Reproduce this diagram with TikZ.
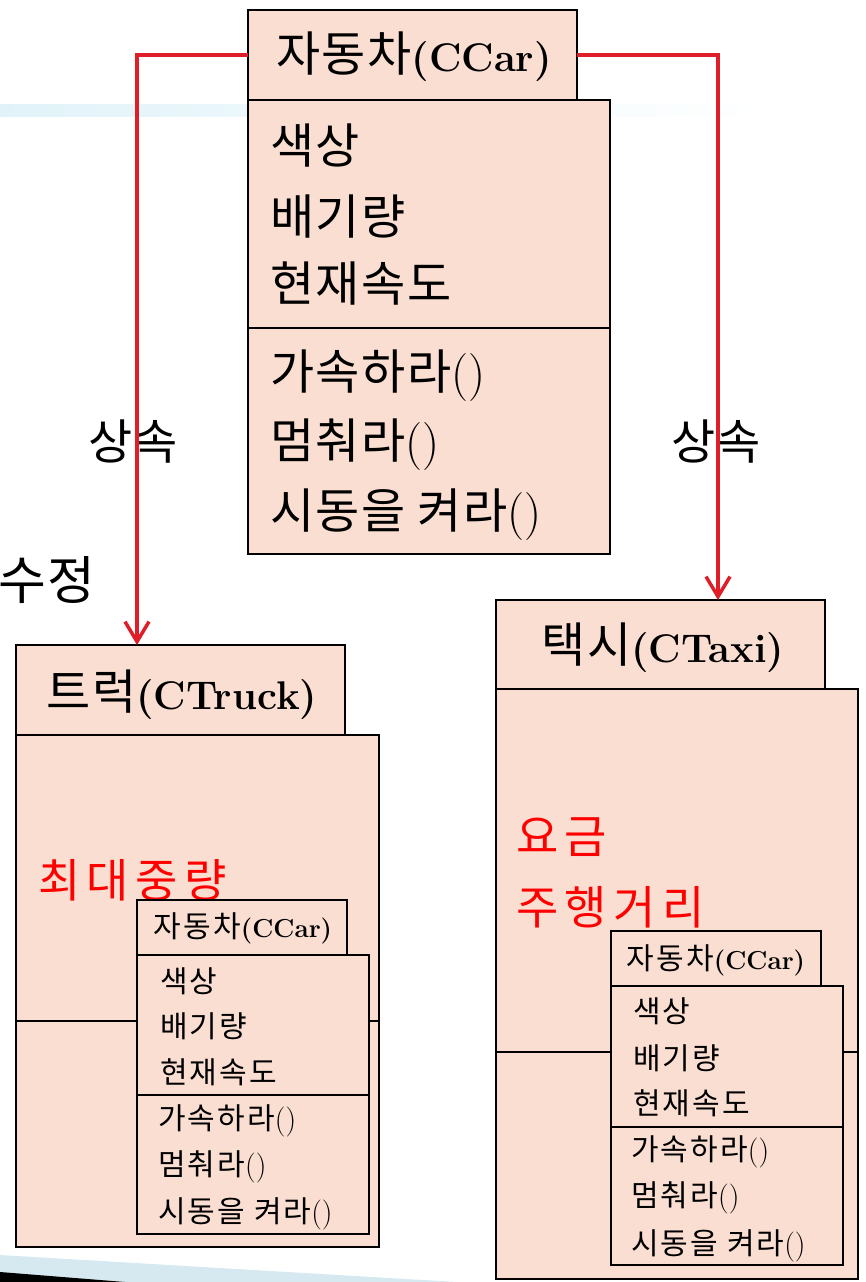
\documentclass[tikz,border=0pt]{standalone}
\usepackage{fontspec}
\newfontfamily\kr{Noto Sans CJK KR}[LetterSpace=3]
\newfontfamily\krs{Noto Sans CJK KR}[LetterSpace=7]
\newfontfamily\krr{Noto Sans CJK KR}[LetterSpace=14]
\usetikzlibrary{arrows.meta}
\definecolor{peach}{RGB}{250,222,209}
\definecolor{linered}{RGB}{222,30,40}
\definecolor{barblue}{RGB}{225,243,249}
\definecolor{wedgeblue}{RGB}{214,233,240}
\newcommand\krbig{\kr\fontsize{48}{52}\selectfont}
\newcommand\krsmall{\krs\fontsize{30}{34}\selectfont}
\newcommand\krred{\krr\fontsize{46}{50}\selectfont}
\newcommand\latbig{\fontsize{40}{44}\selectfont\bfseries}
\newcommand\latsmall{\fontsize{26}{30}\selectfont\bfseries}
\newcommand\prn{{\rmfamily\mdseries()}}
\tikzset{
  box/.style={draw=black, line width=2pt, fill=peach, inner sep=0pt, outer sep=0pt, anchor=north west},
  divline/.style={draw=black, line width=2pt},
  redline/.style={draw=linered, line width=3.5pt, -{Straight Barb[length=20pt,width=24pt]}},
  bigtxt/.style={inner sep=0pt, anchor=west, font=\krbig},
  smalltxt/.style={inner sep=0pt, anchor=west, font=\krsmall},
  redtxt/.style={inner sep=0pt, anchor=west, font=\krred, text=red},
  titletxt/.style={inner sep=0pt, anchor=center}
}
\begin{document}
\begin{tikzpicture}[x=1pt,y=-1pt]
\useasboundingbox (0,0) rectangle (866,1282);
% background decorations
\shade[left color=barblue, right color=white] (0,104) rectangle (770,116);
\fill[wedgeblue] (0,1255) -- (457,1282) -- (0,1282) -- cycle;
\fill[black] (0,1272) -- (125,1282) -- (0,1282) -- cycle;

% ===== top class CCar =====
\node[box, minimum width=329pt, minimum height=90pt] (cartitle) at (248,10) {};
\node[box, minimum width=362pt, minimum height=454pt] (carbody) at (248,100) {};
\draw[divline] (carbody.west |- 0,328) -- (carbody.east |- 0,328);
\node[titletxt] (cartitletxt) at (414,57) {{\krbig 자동차}{\latbig (CCar)}};
\node[bigtxt] (a1) at (270,146) {색상};
\node[bigtxt] (a2) at (270,217) {배기량};
\node[bigtxt] (a3) at (270,284) {현재속도};
\node[bigtxt] (m1) at (270,376) {가속하라\prn};
\node[bigtxt] (m2) at (270,445) {멈춰라\prn};
\node[bigtxt] (m3) at (270,515) {시동을 켜라\prn};

% labels
\node[bigtxt, anchor=center] (inhL) at (133,442) {상속};
\node[bigtxt, anchor=center] (inhR) at (716,442) {상속};
\node[inner sep=0pt, anchor=east, font=\kr\fontsize{52}{56}\selectfont] (fix) at (96,580) {수정};

% ===== Truck =====
\node[box, minimum width=329pt, minimum height=90pt] (trucktitle) at (16,645) {};
\node[box, minimum width=363pt, minimum height=512pt] (truckbody) at (16,735) {};
\draw[divline] (truckbody.west |- 0,1021) -- (truckbody.east |- 0,1021);
\node[titletxt] (trucktitletxt) at (182,695) {{\krbig 트럭}{\latbig (CTruck)}};
\node[redtxt] (tw) at (38,880) {최대중량};
\node[box, minimum width=210pt, minimum height=55pt] (tctitle) at (137,900) {};
\node[box, minimum width=232pt, minimum height=279pt] (tcbody) at (137,955) {};
\draw[divline] (tcbody.west |- 0,1095) -- (tcbody.east |- 0,1095);
\node[titletxt] (tctitletxt) at (243,928) {{\krsmall 자동차}{\latsmall (CCar)}};
\node[smalltxt] (ta1) at (160,981) {색상};
\node[smalltxt] (ta2) at (160,1026) {배기량};
\node[smalltxt] (ta3) at (160,1072) {현재속도};
\node[smalltxt] (tm1) at (158,1121) {가속하라\prn};
\node[smalltxt] (tm2) at (158,1167) {멈춰라\prn};
\node[smalltxt] (tm3) at (158,1214) {시동을 켜라\prn};

% ===== Taxi =====
\node[box, minimum width=329pt, minimum height=89pt] (taxititle) at (496,600) {};
\node[box, minimum width=362pt, minimum height=590pt] (taxibody) at (496,689) {};
\draw[divline] (taxibody.west |- 0,1052) -- (taxibody.east |- 0,1052);
\node[titletxt] (taxititletxt) at (663,648) {{\krbig 택시}{\latbig (CTaxi)}};
\node[redtxt] (fee) at (516,837) {요금};
\node[redtxt] (dist) at (516,907) {주행거리};
\node[box, minimum width=210pt, minimum height=55pt] (xctitle) at (611,931) {};
\node[box, minimum width=232pt, minimum height=279pt] (xcbody) at (611,986) {};
\draw[divline] (xcbody.west |- 0,1127) -- (xcbody.east |- 0,1127);
\node[titletxt] (xctitletxt) at (716,960) {{\krsmall 자동차}{\latsmall (CCar)}};
\node[smalltxt] (xa1) at (633,1011) {색상};
\node[smalltxt] (xa2) at (633,1058) {배기량};
\node[smalltxt] (xa3) at (633,1103) {현재속도};
\node[smalltxt] (xm1) at (631,1152) {가속하라\prn};
\node[smalltxt] (xm2) at (631,1198) {멈춰라\prn};
\node[smalltxt] (xm3) at (631,1246) {시동을 켜라\prn};

% ===== inheritance connectors =====
\coordinate (ltip) at (137,645);
\coordinate (rtip) at (718,600);
\draw[redline] (cartitle.west) -| (ltip);
\draw[redline] (cartitle.east) -| (rtip);
\end{tikzpicture}
\end{document}
